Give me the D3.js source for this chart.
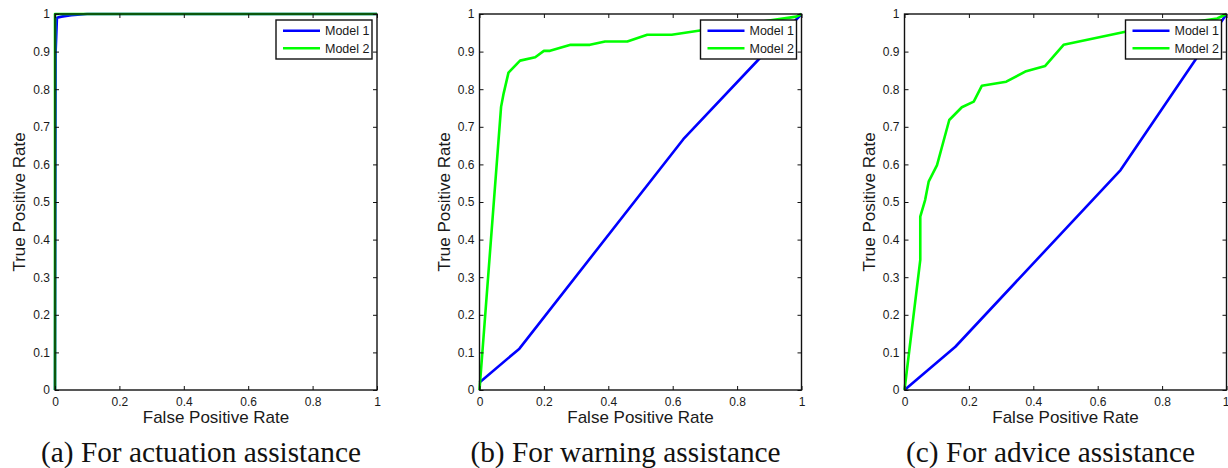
<!DOCTYPE html>
<html>
<head>
<meta charset="utf-8">
<script src="https://cdn.jsdelivr.net/npm/d3@7"></script>
<style>
  html, body { margin: 0; padding: 0; background: #fff; }
  svg { display: block; }
</style>
</head>
<body>
<svg id="chart" width="1228" height="468"></svg>
<script>
// ---- data ----
const panelCaptions = ["(a) For actuation assistance", "(b) For warning assistance", "(c) For advice assistance"];
const seriesNames = ["Model 1", "Model 2"];
const xTicks = [0, 0.2, 0.4, 0.6, 0.8, 1];
const yTicks = [0, 0.1, 0.2, 0.3, 0.4, 0.5, 0.6, 0.7, 0.8, 0.9, 1];
const xTitle = "False Positive Rate";
const yTitle = "True Positive Rate";

// (a) actuation
const fprA1 = [0, 0.002, 0.006, 0.02, 0.05, 0.1, 1];
const tprA1 = [0, 0.90, 0.99, 0.993, 0.997, 1, 1];
const fprA2 = [0, 0, 1];
const tprA2 = [0, 1, 1];
// (b) warning
const fprB1 = [0, 0.124, 0.633, 1];
const tprB1 = [0.02, 0.11, 0.667, 1];
const fprB2 = [0, 0.067, 0.075, 0.09, 0.126, 0.173, 0.2, 0.219, 0.283, 0.343, 0.39, 0.459, 0.521, 0.597, 0.685, 0.984, 1];
const tprB2 = [0, 0.753, 0.789, 0.844, 0.876, 0.885, 0.902, 0.902, 0.918, 0.918, 0.927, 0.927, 0.945, 0.945, 0.956, 0.993, 1];
// (c) advice
const fprC1 = [0, 0.158, 0.671, 1];
const tprC1 = [0, 0.115, 0.585, 1];
const fprC2 = [0, 0.049, 0.049, 0.064, 0.075, 0.101, 0.139, 0.178, 0.215, 0.24, 0.316, 0.375, 0.437, 0.494, 0.686, 0.971, 1];
const tprC2 = [0, 0.346, 0.461, 0.505, 0.554, 0.598, 0.718, 0.752, 0.767, 0.809, 0.82, 0.847, 0.862, 0.918, 0.953, 0.988, 1];

const panels = [
  { caption: panelCaptions[0], series: [[fprA1, tprA1], [fprA2, tprA2]] },
  { caption: panelCaptions[1], series: [[fprB1, tprB1], [fprB2, tprB2]] },
  { caption: panelCaptions[2], series: [[fprC1, tprC1], [fprC2, tprC2]] }
];
const colors = ["#0000ff", "#00ff00"];

// ---- layout ----
const svg = d3.select("#chart");
const lefts = [55, 479.5, 904.5];
const plotW = 322, plotTop = 14, plotH = 376;
const sans = "'Liberation Sans', Arial, sans-serif";
const serif = "'Liberation Serif', 'Times New Roman', serif";
const textCol = "#1a1a1a";

// fit caption font size
const probe = svg.append("text").attr("font-family", serif).attr("font-size", 20).text(panelCaptions[0]);
const capSize = 20 * 320 / probe.node().getComputedTextLength();
probe.remove();

panels.forEach((p, i) => {
  const g = svg.append("g").attr("transform", `translate(${lefts[i]},${plotTop})`);
  const x = d3.scaleLinear().domain([0, 1]).range([0, plotW]);
  const y = d3.scaleLinear().domain([0, 1]).range([plotH, 0]);

  // lines
  const line = d3.line().x(d => x(d[0])).y(d => y(d[1]));
  p.series.forEach((s, k) => {
    const pts = s[0].map((v, j) => [v, s[1][j]]);
    g.append("path").datum(pts).attr("d", line)
      .attr("fill", "none").attr("stroke", colors[k]).attr("stroke-width", 2.6)
      .attr("stroke-linejoin", "round");
  });

  // axes
  const fmt = d => d3.format("")(+d.toFixed(1));
  const ax = [
    g.append("g").attr("class", "xaxis").attr("transform", `translate(0,${plotH})`)
      .call(d3.axisBottom(x).tickValues(xTicks).tickFormat(fmt).tickSizeInner(-4).tickSizeOuter(0).tickPadding(7.5)),
    g.append("g")
      .call(d3.axisLeft(y).tickValues(yTicks).tickFormat(fmt).tickSizeInner(-4).tickSizeOuter(0).tickPadding(5)),
    g.append("g")
      .call(d3.axisTop(x).tickValues(xTicks).tickFormat("").tickSizeInner(-4).tickSizeOuter(0)),
    g.append("g").attr("transform", `translate(${plotW},0)`)
      .call(d3.axisRight(y).tickValues(yTicks).tickFormat("").tickSizeInner(-4).tickSizeOuter(0))
  ];
  ax.forEach(a => {
    a.select(".domain").remove();
    a.selectAll(".tick line").attr("stroke", "#111").attr("stroke-width", 1);
    a.selectAll(".tick text").attr("font-family", sans).attr("font-size", 12).attr("fill", textCol);
  });
  if (i === 2) {
    // keep the last x label inside the window
    ax[0].selectAll(".tick").filter(d => d === 1).select("text").attr("text-anchor", "end").attr("x", 2.5);
  }

  // box
  g.append("rect").attr("x", 0).attr("y", 0).attr("width", plotW).attr("height", plotH)
    .attr("fill", "none").attr("stroke", "#111").attr("stroke-width", 1.4);

  // axis titles
  g.append("text").attr("x", plotW / 2).attr("y", plotH + 33).attr("text-anchor", "middle")
    .attr("font-family", sans).attr("font-size", 17).attr("fill", textCol).text(xTitle);
  g.append("text").attr("transform", `translate(-30,${plotH / 2}) rotate(-90)`).attr("text-anchor", "middle")
    .attr("font-family", sans).attr("font-size", 17).attr("fill", textCol).text(yTitle);

  // legend
  const lw = 96, lh = 39;
  const lg = g.append("g").attr("transform", `translate(${plotW - 5 - lw},6)`);
  lg.append("rect").attr("width", lw).attr("height", lh).attr("fill", "#fff")
    .attr("stroke", "#111").attr("stroke-width", 1.4);
  seriesNames.forEach((n, k) => {
    const yy = 10.7 + k * 17.6;
    lg.append("line").attr("x1", 7).attr("x2", 44).attr("y1", yy).attr("y2", yy)
      .attr("stroke", colors[k]).attr("stroke-width", 2.6);
    lg.append("text").attr("x", 49).attr("y", yy).attr("dy", "0.35em")
      .attr("font-family", sans).attr("font-size", 12.5).attr("fill", textCol).text(n);
  });

  // caption
  svg.append("text").attr("x", lefts[i] + plotW / 2 - 15).attr("y", 461.5).attr("text-anchor", "middle")
    .attr("font-family", serif).attr("font-size", capSize).attr("fill", "#111").text(p.caption);
});
</script>
</body>
</html>
